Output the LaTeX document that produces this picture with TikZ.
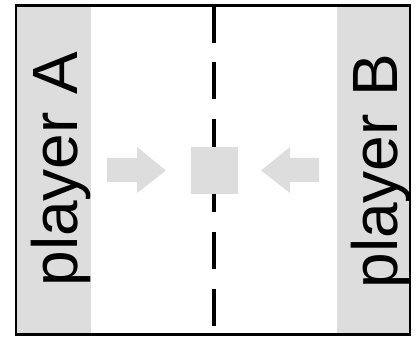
\documentclass[tikz,border=0pt]{standalone}
\usepackage{fontspec}
\setmainfont{Liberation Sans}
\definecolor{band}{HTML}{DDDDDD}
\begin{document}
\begin{tikzpicture}[x=1pt,y=1pt,
  bandfill/.style={fill=band,draw=none},
  playerlabel/.style={rotate=90,anchor=base,inner sep=0pt,font=\fontsize{64}{64}\selectfont},
  shapefill/.style={fill=band,draw=none}]
\useasboundingbox (0,0) rectangle (419,337);
% bands
\fill[band] (16,2.5) rectangle (91,331.5);
\fill[band] (337,2.5) rectangle (410,331.5);
% labels
\node[playerlabel] (pa) at (77,168) {player A};
\node[playerlabel] (pb) at (397,166) {player B};
% dashed middle line
\coordinate (top) at (214,331);
\coordinate (bot) at (214,4);
\draw[line width=3.5pt,dash pattern=on 37pt off 19.5pt] (top) -- (bot);
% arrows
\fill[shapefill] (107,155) -- (137,155) -- (137,144) -- (166,166.5) -- (137,190) -- (137,179) -- (107,179) -- cycle;
\fill[shapefill] (319,155) -- (290,155) -- (290,144) -- (261,166.5) -- (290,190) -- (290,179) -- (319,179) -- cycle;
% square
\node[shapefill,minimum width=47pt,minimum height=47pt,inner sep=0pt] (sq) at (214.5,166.5) {};
% frame
\draw[line width=2.8pt] (16,2.5) rectangle (410,331.5);
\end{tikzpicture}
\end{document}
